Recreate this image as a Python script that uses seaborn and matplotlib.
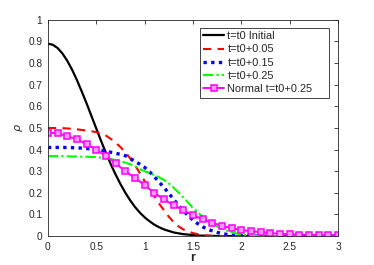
import matplotlib
matplotlib.use("Agg")
import matplotlib.pyplot as plt
import seaborn as sns

# =====================================================
# DATA
# =====================================================

# fine radius grid for the smooth curves (step 0.05)
r_fine = [0.0, 0.05, 0.1, 0.15, 0.2, 0.25, 0.3, 0.35, 0.4, 0.45,
          0.5, 0.55, 0.6, 0.65, 0.7, 0.75, 0.8, 0.85, 0.9, 0.95,
          1.0, 1.05, 1.1, 1.15, 1.2, 1.25, 1.3, 1.35, 1.4, 1.45,
          1.5, 1.55, 1.6, 1.65, 1.7, 1.75, 1.8, 1.85, 1.9, 1.95,
          2.0, 2.05, 2.1, 2.15, 2.2, 2.25, 2.3, 2.35, 2.4, 2.45,
          2.5, 2.55, 2.6, 2.65, 2.7, 2.75, 2.8, 2.85, 2.9, 2.95, 3.0]

rho_initial = [0.89, 0.885, 0.870, 0.845, 0.811, 0.770, 0.722, 0.669, 0.614, 0.556,
               0.498, 0.440, 0.385, 0.333, 0.285, 0.241, 0.201, 0.166, 0.135, 0.109,
               0.087, 0.069, 0.053, 0.041, 0.031, 0.024, 0.017, 0.013, 0.009, 0.007,
               0.005, 0.003, 0.002, 0.0015, 0.001, 0.0005, 0.0, 0.0, 0.0, 0.0,
               0.0, 0.0, 0.0, 0.0, 0.0, 0.0, 0.0, 0.0, 0.0, 0.0,
               0.0, 0.0, 0.0, 0.0, 0.0, 0.0, 0.0, 0.0, 0.0, 0.0, 0.0]

rho_005 = [0.50, 0.50, 0.50, 0.499, 0.498, 0.496, 0.494, 0.491, 0.488, 0.485,
           0.481, 0.474, 0.465, 0.45, 0.432, 0.412, 0.388, 0.36, 0.328, 0.292,
           0.255, 0.22, 0.185, 0.15, 0.12, 0.09, 0.065, 0.045, 0.031, 0.021,
           0.014, 0.009, 0.005, 0.003, 0.001, 0.0, 0.0, 0.0, 0.0, 0.0,
           0.0, 0.0, 0.0, 0.0, 0.0, 0.0, 0.0, 0.0, 0.0, 0.0,
           0.0, 0.0, 0.0, 0.0, 0.0, 0.0, 0.0, 0.0, 0.0, 0.0, 0.0]

rho_015 = [0.41, 0.41, 0.41, 0.41, 0.41, 0.409, 0.408, 0.407, 0.405, 0.403,
           0.40, 0.397, 0.393, 0.388, 0.383, 0.378, 0.372, 0.36, 0.345, 0.333,
           0.318, 0.298, 0.275, 0.25, 0.225, 0.198, 0.17, 0.143, 0.117, 0.095,
           0.074, 0.057, 0.043, 0.032, 0.024, 0.017, 0.012, 0.008, 0.005, 0.003,
           0.002, 0.001, 0.0, 0.0, 0.0, 0.0, 0.0, 0.0, 0.0, 0.0,
           0.0, 0.0, 0.0, 0.0, 0.0, 0.0, 0.0, 0.0, 0.0, 0.0, 0.0]

rho_025 = [0.37, 0.37, 0.37, 0.37, 0.369, 0.3685, 0.368, 0.3675, 0.367, 0.366,
           0.365, 0.363, 0.36, 0.356, 0.352, 0.347, 0.34, 0.333, 0.323, 0.31,
           0.30, 0.292, 0.283, 0.272, 0.26, 0.244, 0.224, 0.202, 0.179, 0.155,
           0.13, 0.11, 0.09, 0.072, 0.056, 0.045, 0.034, 0.025, 0.018, 0.012,
           0.008, 0.005, 0.003, 0.001, 0.0, 0.0, 0.0, 0.0, 0.0, 0.0,
           0.0, 0.0, 0.0, 0.0, 0.0, 0.0, 0.0, 0.0, 0.0, 0.0, 0.0]

# coarse grid for the "Normal" curve (one marker per point)
r_coarse = [0.0, 0.1, 0.2, 0.3, 0.4, 0.5, 0.6, 0.7, 0.8, 0.9,
            1.0, 1.1, 1.2, 1.3, 1.4, 1.5, 1.6, 1.7, 1.8, 1.9,
            2.0, 2.1, 2.2, 2.3, 2.4, 2.5, 2.6, 2.7, 2.8, 2.9, 3.0]

rho_normal = [0.478, 0.476, 0.462, 0.448, 0.425, 0.40, 0.37, 0.337, 0.30, 0.27,
              0.235, 0.20, 0.17, 0.143, 0.12, 0.097, 0.078, 0.062, 0.047, 0.037,
              0.028, 0.023, 0.018, 0.014, 0.011, 0.009, 0.007, 0.006, 0.005, 0.004, 0.004]

x_ticks = [0, 0.5, 1, 1.5, 2, 2.5, 3]
x_tick_labels = ["0", "0.5", "1", "1.5", "2", "2.5", "3"]
y_ticks = [0, 0.1, 0.2, 0.3, 0.4, 0.5, 0.6, 0.7, 0.8, 0.9, 1]
y_tick_labels = ["0", "0.1", "0.2", "0.3", "0.4", "0.5", "0.6", "0.7", "0.8", "0.9", "1"]

# =====================================================
# STYLE
# =====================================================

sns.set_style("white")
plt.rcParams["font.family"] = ["Liberation Sans", "DejaVu Sans"]
axis_gray = (0.15, 0.15, 0.15)

fig = plt.figure(figsize=(3.74, 2.65), dpi=100)
ax = fig.add_axes([0.128, 0.109, 0.776, 0.816])

# =====================================================
# PLOT CURVES
# =====================================================

sns.lineplot(x=r_fine, y=rho_initial, ax=ax, color="black",
             linewidth=1.6, label="t=t0 Initial")
sns.lineplot(x=r_fine, y=rho_005, ax=ax, color="red",
             linewidth=1.5, linestyle=(0, (4, 3)), label="t=t0+0.05")
sns.lineplot(x=r_fine, y=rho_015, ax=ax, color="blue",
             linewidth=2.4, linestyle=(0, (1, 1.3)), label="t=t0+0.15")
sns.lineplot(x=r_fine, y=rho_025, ax=ax, color=(0, 1, 0),
             linewidth=1.5, linestyle=(0, (5, 1.5, 1, 1.5)), label="t=t0+0.25")
sns.lineplot(x=r_coarse, y=rho_normal, ax=ax, color="magenta",
             linewidth=1.4, marker="s", markersize=4.2,
             markerfacecolor=(1, 0.6, 1), markeredgecolor="magenta",
             markeredgewidth=1.1, label="Normal t=t0+0.25")

# =====================================================
# AXES
# =====================================================

ax.set_xlim(0, 3)
ax.set_ylim(0, 1)
ax.set_xticks(x_ticks)
ax.set_xticklabels(x_tick_labels)
ax.set_yticks(y_ticks)
ax.set_yticklabels(y_tick_labels)
ax.tick_params(direction="in", length=3, width=0.6, colors=axis_gray,
               labelsize=7.3, top=True, right=True, pad=4)
for spine in ax.spines.values():
    spine.set_visible(True)
    spine.set_color(axis_gray)
    spine.set_linewidth(0.6)

ax.set_xlabel("r", fontsize=9, fontweight="bold", color=axis_gray, labelpad=0)
ax.set_ylabel(r"$\rho$", fontsize=8, color=axis_gray, labelpad=2)

# legend box stretched to a fixed width, entries kept on the left
leg = ax.legend(loc="upper right", bbox_to_anchor=(0.524, 0.5, 0.445, 0.463),
                mode="expand", fontsize=7.9, frameon=True, fancybox=False,
                framealpha=1, edgecolor=axis_gray, handlelength=1.9,
                handletextpad=0.3, labelspacing=0.3, borderpad=0.3,
                borderaxespad=0)
leg.get_frame().set_linewidth(0.6)

plt.savefig("out.png", dpi=100)
plt.close()
